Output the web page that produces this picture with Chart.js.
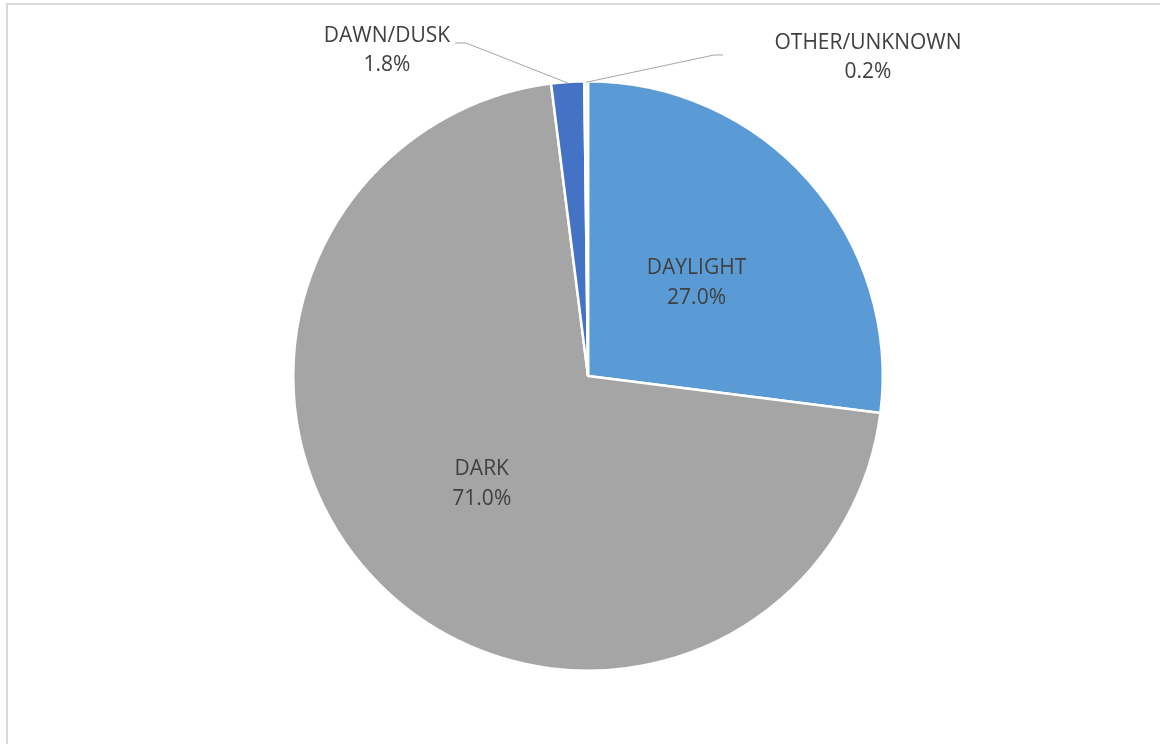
<!DOCTYPE html>
<html>
<head>
<meta charset="utf-8">
<script src="https://cdn.jsdelivr.net/npm/chart.js@4.4.1/dist/chart.umd.min.js"></script>
<style>
    html, body { margin: 0; padding: 0; background: #fff; overflow: hidden; }
    #frame {
        position: absolute; left: 6px; top: 3px;
        width: 1200px; height: 800px;
        border: 2px solid #d9d9d9;
    }
    #wrap { position: absolute; left: 0; top: 0; width: 1160px; height: 744px; }
</style>
</head>
<body>
<div id="frame"></div>
<div id="wrap"><canvas id="lightChart"></canvas></div>
<script>
// chart data
const categories = ['DAYLIGHT', 'DARK', 'DAWN/DUSK', 'OTHER/UNKNOWN'];
const shares = [27.0, 71.0, 1.8, 0.2];
const sliceColors = ['#5B9BD5', '#A5A5A5', '#4472C4', '#EAF1FB'];

const textColor = '#404040';
const labelFont = '21px "Open Sans", "Noto Sans", sans-serif';

// callouts for the thin slices: label centre and elbow of the leader line
const callouts = {
    2: { x: 387, y: 36, elbowX: 466, elbowY: 43, endX: 455 },
    3: { x: 868, y: 43, elbowX: 714, elbowY: 55, endX: 723 }
};

// draws the labels like excel does
const sliceLabels = {
    id: 'sliceLabels',
    afterDatasetsDraw(chart) {
        const c = chart.ctx;
        const meta = chart.getDatasetMeta(0);
        c.save();
        c.font = labelFont;
        c.fillStyle = textColor;
        c.textAlign = 'center';
        c.textBaseline = 'middle';
        meta.data.forEach((arc, i) => {
            const p = arc.getProps(['x', 'y', 'startAngle', 'endAngle', 'outerRadius']);
            const mid = (p.startAngle + p.endAngle) / 2;
            const pct = shares[i].toFixed(1) + '%';
            if (callouts[i]) {
                const co = callouts[i];
                const ax = p.x + Math.cos(mid) * (p.outerRadius - 1);
                const ay = p.y + Math.sin(mid) * (p.outerRadius - 1);
                c.strokeStyle = '#a6a6a6';
                c.lineWidth = 1;
                c.beginPath();
                c.moveTo(ax, ay);
                c.lineTo(co.elbowX, co.elbowY);
                c.lineTo(co.endX, co.elbowY);
                c.stroke();
                c.fillText(categories[i], co.x, co.y);
                c.fillText(pct, co.x, co.y + 29);
            } else {
                const r = p.outerRadius * 0.5;
                const lx = p.x + Math.cos(mid) * r;
                const ly = p.y + Math.sin(mid) * r + 3;
                c.fillText(categories[i], lx - 2, ly - 14);
                c.fillText(pct, lx - 2, ly + 16);
            }
        });
        c.restore();
    }
};

const ctx = document.getElementById('lightChart').getContext('2d');

const lightChart = new Chart(ctx, {
    type: 'pie',
    data: {
        labels: categories,
        datasets: [{
            data: shares,
            backgroundColor: sliceColors,
            borderColor: '#ffffff',
            borderWidth: 2.5
        }]
    },
    options: {
        responsive: true,
        maintainAspectRatio: false,
        animation: false,
        layout: {
            padding: { left: 292, right: 276, top: 80, bottom: 72 }
        },
        plugins: {
            legend: { display: false },
            tooltip: { enabled: false }
        }
    },
    plugins: [sliceLabels]
});
</script>
</body>
</html>
